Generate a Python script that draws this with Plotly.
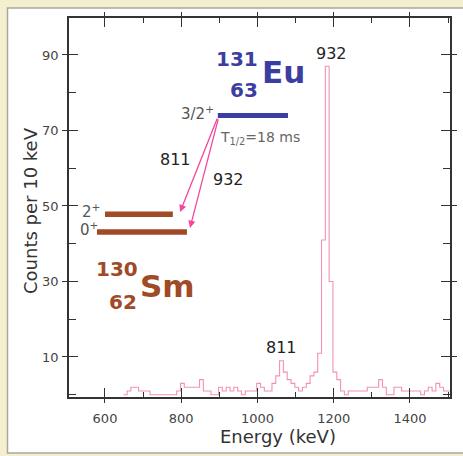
import plotly.graph_objects as go

# ---------------- data ----------------
bin_lo_kev = [648, 658, 668, 678, 688, 698, 708, 718, 728, 738, 748, 758, 768, 778, 788, 798,
              808, 818, 828, 838, 848, 858, 868, 878, 888, 898, 908, 918, 928, 938, 948, 958,
              968, 978, 988, 998, 1008, 1018, 1028, 1038, 1048, 1058, 1068, 1078, 1088, 1098,
              1108, 1118, 1128, 1138, 1148, 1158, 1168, 1178, 1188, 1198, 1208, 1218, 1228,
              1238, 1248, 1258, 1268, 1278, 1288, 1298, 1308, 1318, 1328, 1338, 1348, 1358,
              1368, 1378, 1388, 1398, 1408, 1418, 1428, 1438, 1448, 1458, 1468, 1478, 1488, 1498]
counts = [0, 1, 2, 2, 1, 1, 1, 0, 0, 0, 0, 0, 0, 0, 1, 3,
          2, 2, 2, 2, 4, 1, 1, 0, 0, 2, 1, 2, 1, 2, 1, 0,
          1, 1, 1, 3, 2, 1, 1, 3, 5, 9, 6, 4, 3, 2,
          1, 2, 3, 5, 6, 11, 41, 87, 30, 6, 4, 1, 0,
          1, 1, 1, 1, 1, 2, 2, 2, 4, 2, 0, 0, 2,
          2, 1, 1, 1, 1, 1, 0, 1, 2, 1, 3, 2, 1, 1]
bin_width = 10

x_ticks = [600, 800, 1000, 1200, 1400]
x_minor = [700, 900, 1100, 1300, 1500]
y_ticks = [10, 30, 50, 70, 90]
y_minor = [0, 20, 40, 60, 80, 100]

# level scheme (energy-axis / count-axis placement of the drawing)
eu_level = dict(x0=896, x1=1080, y=74.0)
sm_level_2 = dict(x0=600, x1=778, y=47.8)
sm_level_0 = dict(x0=579, x1=815, y=43.1)
arrow_811 = dict(x0=896, y0=73.6, x1=797, y1=48.4)
arrow_932 = dict(x0=898, y0=73.4, x1=823, y1=44.2)

X_RANGE = [505.6, 1505]
Y_RANGE = [-0.6, 99.8]

BLUE = "#3b3ea0"
BROWN = "#a04a26"
PINK_HIST = "#f391b6"
PINK_ARROW = "#f2479d"
GRAY = "#555555"
FONT = "DejaVu Sans"

# step histogram outline
xs = list(bin_lo_kev) + [bin_lo_kev[-1] + bin_width]
ys = list(counts) + [counts[-1]]

fig = go.Figure()
fig.add_trace(go.Scatter(x=xs, y=ys, mode="lines", line=dict(color=PINK_HIST, width=1.1, shape="hv"),
                         hoverinfo="skip", showlegend=False))
# dummy trace for the overlay (outside-tick) axes
fig.add_trace(go.Scatter(x=[1000], y=[50], xaxis="x2", yaxis="y2", mode="markers",
                         marker=dict(opacity=0), hoverinfo="skip", showlegend=False))

axis_common = dict(showgrid=False, zeroline=False, showline=True, linecolor="#333333", linewidth=1.6,
                   ticks="inside", ticklen=9, tickwidth=1.4, tickcolor="#333333", mirror="ticks",
                   tickfont=dict(family=FONT, size=13, color="#444444"))

fig.update_layout(
    width=463, height=456,
    margin=dict(l=69, r=13, t=18, b=59),
    paper_bgcolor="#f3efcf",
    plot_bgcolor="white",
    showlegend=False,
    xaxis=dict(range=X_RANGE, tickmode="array", tickvals=x_ticks,
               minor=dict(tickvals=x_minor, ticks="inside", ticklen=5, tickcolor="#333333", tickwidth=1.2),
               ticklabelstandoff=9, **axis_common),
    yaxis=dict(range=Y_RANGE, tickmode="array", tickvals=y_ticks,
               minor=dict(tickvals=y_minor, ticks="inside", ticklen=7, tickcolor="#333333", tickwidth=1.2),
               ticklabelstandoff=6, **axis_common),
    xaxis2=dict(overlaying="x", range=X_RANGE, tickmode="array", tickvals=x_ticks, ticks="outside",
                ticklen=5, tickwidth=1.4, tickcolor="#333333", showticklabels=False, showgrid=False,
                zeroline=False, showline=False, mirror="ticks"),
    yaxis2=dict(overlaying="y", range=Y_RANGE, tickmode="array", tickvals=y_ticks, ticks="outside",
                ticklen=6, tickwidth=1.4, tickcolor="#333333", showticklabels=False, showgrid=False,
                zeroline=False, showline=False, mirror="ticks"),
)

shapes = []
# white panel with grey frame (open to the right edge)
shapes.append(dict(type="rect", xref="paper", yref="paper", x0=-0.1614, x1=1.2, y0=-0.148, y1=1.0264,
                   fillcolor="white", line=dict(color="#a8a8a0", width=1.5), layer="below"))
# energy levels
shapes.append(dict(type="line", xref="x", yref="y", x0=eu_level["x0"], x1=eu_level["x1"],
                   y0=eu_level["y"], y1=eu_level["y"], line=dict(color=BLUE, width=5)))
for lv in (sm_level_2, sm_level_0):
    shapes.append(dict(type="line", xref="x", yref="y", x0=lv["x0"], x1=lv["x1"],
                       y0=lv["y"], y1=lv["y"], line=dict(color=BROWN, width=5.5)))
fig.update_layout(shapes=shapes)

ann = []
def txt(x, y, text, size, color, bold=False, xanchor="center", ref="data"):
    ann.append(dict(x=x, y=y, text=(f"<b>{text}</b>" if bold else text), showarrow=False,
                    xref="x" if ref == "data" else "paper", yref="y" if ref == "data" else "paper",
                    xanchor=xanchor, yanchor="middle",
                    font=dict(family=FONT, size=size, color=color)))

# arrows
for a in (arrow_811, arrow_932):
    ann.append(dict(x=a["x1"], y=a["y1"], ax=a["x0"], ay=a["y0"], xref="x", yref="y", axref="x", ayref="y",
                    text="", showarrow=True, arrowhead=2, arrowsize=1.1, arrowwidth=1.3,
                    arrowcolor=PINK_ARROW, standoff=0, startstandoff=0))

txt(946, 89.0, "131", 20, BLUE, bold=True)
txt(965, 80.7, "63", 20, BLUE, bold=True)
txt(1067, 85.5, "Eu", 31, BLUE, bold=True)
txt(631, 33.3, "130", 20, BROWN, bold=True)
txt(647, 24.6, "62", 20, BROWN, bold=True)
txt(765, 28.8, "Sm", 31, BROWN, bold=True)
txt(891, 74.6, "3/2<sup>+</sup>", 15, GRAY, xanchor="right")
txt(591, 48.8, "2<sup>+</sup>", 15, GRAY, xanchor="right")
txt(588, 43.8, "0<sup>+</sup>", 15, GRAY, xanchor="right")
txt(896, 68.0, "T<sub>1/2</sub>=18 ms", 14, "#666666", xanchor="left")
txt(786, 62.2, "811", 16, "#222222")
txt(923, 56.9, "932", 16, "#222222")
txt(1195, 90.3, "932", 16, "#222222")
txt(1064, 12.4, "811", 16, "#222222")
txt(0.5486, -0.1055, "Energy (keV)", 18, "#333333", ref="paper")
ann.append(dict(x=-0.1024, y=0.4934, xref="paper", yref="paper", text="Counts per 10 keV", showarrow=False,
                textangle=-90, xanchor="center", yanchor="middle",
                font=dict(family=FONT, size=18, color="#333333")))
fig.update_layout(annotations=ann)

fig.write_html("out.html")
